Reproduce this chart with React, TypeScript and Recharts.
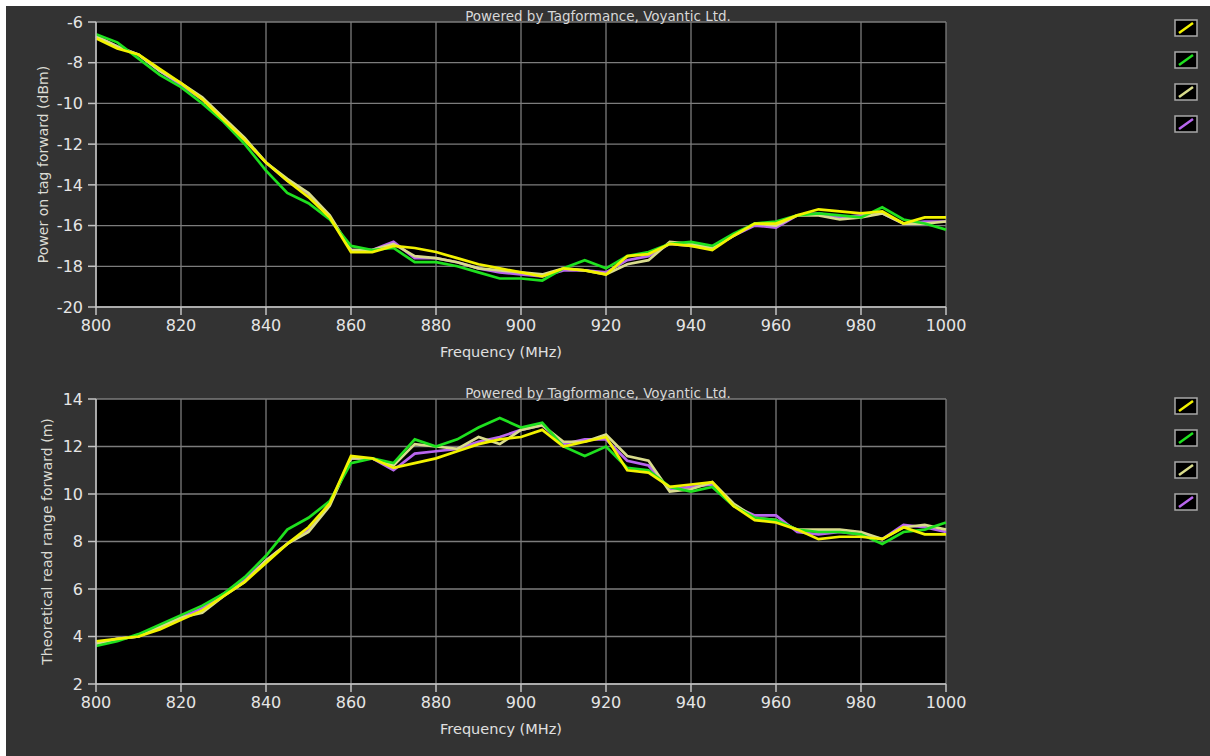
import React from 'react';
import { LineChart, Line, XAxis, YAxis, CartesianGrid } from 'recharts';

const freqs = [
  800, 805, 810, 815, 820, 825, 830, 835, 840, 845, 850, 855, 860, 865, 870, 875, 880, 885, 890, 895,
  900, 905, 910, 915, 920, 925, 930, 935, 940, 945, 950, 955, 960, 965, 970, 975, 980, 985, 990, 995, 1000,
];

// Power on tag forward (dBm)
const powerYellow = [
  -6.8, -7.3, -7.6, -8.3, -9.0, -9.8, -10.8, -11.8, -12.9, -13.8, -14.6, -15.6, -17.3, -17.3, -17.0, -17.1,
  -17.3, -17.6, -17.9, -18.1, -18.3, -18.5, -18.1, -18.2, -18.4, -17.5, -17.4, -16.9, -17.0, -17.2, -16.5,
  -15.9, -15.9, -15.5, -15.2, -15.3, -15.4, -15.3, -15.9, -15.6, -15.6,
];
const powerGreen = [
  -6.6, -7.0, -7.8, -8.6, -9.2, -10.0, -10.9, -12.0, -13.3, -14.4, -14.9, -15.7, -17.0, -17.2, -17.1, -17.8,
  -17.8, -18.0, -18.3, -18.6, -18.6, -18.7, -18.1, -17.7, -18.1, -17.5, -17.3, -16.9, -16.8, -17.0, -16.4,
  -15.9, -15.8, -15.5, -15.4, -15.5, -15.6, -15.1, -15.7, -15.9, -16.2,
];
const powerPale = [
  -6.7, -7.2, -7.6, -8.4, -9.0, -9.7, -10.7, -11.7, -12.9, -13.7, -14.4, -15.5, -17.2, -17.2, -16.9, -17.5,
  -17.6, -17.8, -18.1, -18.2, -18.3, -18.4, -18.1, -18.2, -18.4, -17.9, -17.7, -16.8, -16.9, -17.1, -16.5,
  -15.9, -16.0, -15.5, -15.5, -15.7, -15.6, -15.4, -15.9, -15.9, -15.8,
];
const powerPurple = [
  -6.7, -7.2, -7.6, -8.4, -9.1, -9.8, -10.8, -11.8, -12.9, -13.8, -14.5, -15.6, -17.2, -17.2, -16.8, -17.6,
  -17.6, -17.8, -18.1, -18.3, -18.4, -18.5, -18.2, -18.2, -18.3, -17.7, -17.5, -16.9, -17.0, -17.1, -16.5,
  -16.0, -16.1, -15.5, -15.4, -15.6, -15.5, -15.4, -15.9, -15.8, -15.8,
];

// Theoretical read range forward (m)
const rangeYellow = [
  3.8, 3.9, 4.0, 4.3, 4.7, 5.1, 5.7, 6.3, 7.1, 7.9, 8.6, 9.6, 11.6, 11.5, 11.1, 11.3, 11.5, 11.8, 12.1, 12.3,
  12.4, 12.7, 12.0, 12.2, 12.4, 11.0, 10.9, 10.3, 10.4, 10.5, 9.5, 8.9, 8.8, 8.5, 8.1, 8.2, 8.2, 8.1, 8.6, 8.3, 8.3,
];
const rangeGreen = [
  3.6, 3.8, 4.1, 4.5, 4.9, 5.3, 5.8, 6.5, 7.4, 8.5, 9.0, 9.7, 11.3, 11.5, 11.3, 12.3, 12.0, 12.3, 12.8, 13.2,
  12.8, 13.0, 12.0, 11.6, 12.0, 11.1, 11.0, 10.3, 10.1, 10.3, 9.5, 9.0, 8.9, 8.5, 8.4, 8.4, 8.3, 7.9, 8.4, 8.5, 8.8,
];
const rangePale = [
  3.7, 3.9, 4.0, 4.4, 4.8, 5.0, 5.7, 6.3, 7.2, 7.9, 8.4, 9.5, 11.5, 11.5, 11.2, 12.1, 12.0, 11.9, 12.4, 12.1,
  12.7, 12.9, 12.2, 12.2, 12.5, 11.6, 11.4, 10.1, 10.2, 10.5, 9.6, 9.0, 8.9, 8.5, 8.5, 8.5, 8.4, 8.1, 8.6, 8.7, 8.5,
];
const rangePurple = [
  3.7, 3.9, 4.0, 4.4, 4.8, 5.2, 5.8, 6.4, 7.2, 7.9, 8.5, 9.6, 11.5, 11.5, 11.0, 11.7, 11.8, 11.9, 12.2, 12.4,
  12.7, 12.9, 12.1, 12.3, 12.3, 11.4, 11.2, 10.2, 10.3, 10.4, 9.5, 9.1, 9.1, 8.4, 8.3, 8.4, 8.3, 8.1, 8.7, 8.6, 8.4,
];

const xTicks = [800, 820, 840, 860, 880, 900, 920, 940, 960, 980, 1000];
const powerTicks = [-20, -18, -16, -14, -12, -10, -8, -6];
const rangeTicks = [2, 4, 6, 8, 10, 12, 14];

// legend order; drawn in reverse so yellow ends on top
const series = [
  { key: 'yellow', color: '#f2f200' },
  { key: 'green', color: '#1fe01f' },
  { key: 'pale', color: '#d9dc8c' },
  { key: 'purple', color: '#b866ee' },
];

const powerData = freqs.map((f, i) => ({
  f,
  yellow: powerYellow[i],
  green: powerGreen[i],
  pale: powerPale[i],
  purple: powerPurple[i],
}));

const rangeData = freqs.map((f, i) => ({
  f,
  yellow: rangeYellow[i],
  green: rangeGreen[i],
  pale: rangePale[i],
  purple: rangePurple[i],
}));

const FONT = '"DejaVu Sans", Verdana, sans-serif';

const BoxLegend = ({ top }: { top: number }) => (
  <div style={{ position: 'absolute', left: 1174, top }}>
    {series.map((s) => (
      <svg key={s.key} width={24} height={18} style={{ display: 'block', marginBottom: 14 }}>
        <rect x={1} y={1} width={22} height={16} fill="#000" stroke="#a8a8a8" strokeWidth={1.5} />
        <line x1={5} y1={14} x2={19} y2={4} stroke={s.color} strokeWidth={2.5} />
      </svg>
    ))}
  </div>
);

interface PanelProps {
  data: Array<Record<string, number>>;
  yLabel: string;
  yLabelX: number;
  domain: [number, number];
  ticks: number[];
  marginTop: number;
  marginBottom: number;
}

const Panel: React.FC<PanelProps> = ({ data, yLabel, yLabelX, domain, ticks, marginTop, marginBottom }) => {
  return (
    <LineChart
      width={1210}
      height={378}
      data={data}
      margin={{ top: marginTop, right: 264, bottom: marginBottom, left: 36 }}
      style={{ fontFamily: FONT }}
    >
      <CartesianGrid fill="#000" stroke="#7c7c7c" strokeWidth={1.3} />
      <XAxis
        dataKey="f"
        type="number"
        domain={[800, 1000]}
        ticks={xTicks}
        height={50}
        tickSize={8}
        tickMargin={5}
        stroke="#c4c4c4"
        strokeWidth={1.5}
        tick={{ fill: '#e6e6e6', fontSize: 16 }}
        label={{
          content: (p: any) => (
            <text x={501} y={p.viewBox.y + 50} textAnchor="middle" fill="#e0e0e0" fontSize={14.5}>
              Frequency (MHz)
            </text>
          ),
        }}
      />
      <YAxis
        type="number"
        domain={domain}
        ticks={ticks}
        width={60}
        tickSize={8}
        tickMargin={5}
        stroke="#c4c4c4"
        strokeWidth={1.5}
        interval={0}
        tick={{ fill: '#e6e6e6', fontSize: 16 }}
        label={{
          content: (p: any) => {
            const cy = p.viewBox.y + p.viewBox.height / 2;
            return (
              <text
                x={yLabelX}
                y={cy}
                transform={`rotate(-90 ${yLabelX} ${cy})`}
                textAnchor="middle"
                dominantBaseline="central"
                fill="#dcdcd4"
                fontSize={14}
              >
                {yLabel}
              </text>
            );
          },
        }}
      />
      <text x={598} y={marginTop - 1} textAnchor="middle" fill="#d8d8d8" fontSize={13.5}>
        Powered by Tagformance, Voyantic Ltd.
      </text>
      {[...series].reverse().map((s) => (
        <Line
          key={s.key}
          type="linear"
          dataKey={s.key}
          stroke={s.color}
          strokeWidth={2.7}
          dot={false}
          activeDot={false}
          isAnimationActive={false}
          legendType="none"
        />
      ))}
    </LineChart>
  );
};

const App: React.FC = () => {
  return (
    <div style={{ position: 'absolute', left: 0, top: 0, width: 1210, height: 756, background: '#fff' }}>
      <div style={{ position: 'absolute', left: 6, top: 6, width: 1204, height: 750, background: '#333333' }} />
      <div style={{ position: 'absolute', left: 0, top: 0 }}>
        <Panel
          data={powerData}
          yLabel="Power on tag forward (dBm)"
          yLabelX={43}
          domain={[-20, -6]}
          ticks={powerTicks}
          marginTop={22}
          marginBottom={21}
        />
      </div>
      <BoxLegend top={19} />
      <div style={{ position: 'absolute', left: 0, top: 378 }}>
        <Panel
          data={rangeData}
          yLabel="Theoretical read range forward (m)"
          yLabelX={47}
          domain={[2, 14]}
          ticks={rangeTicks}
          marginTop={21}
          marginBottom={22}
        />
      </div>
      <BoxLegend top={397} />
    </div>
  );
};

export default App;
